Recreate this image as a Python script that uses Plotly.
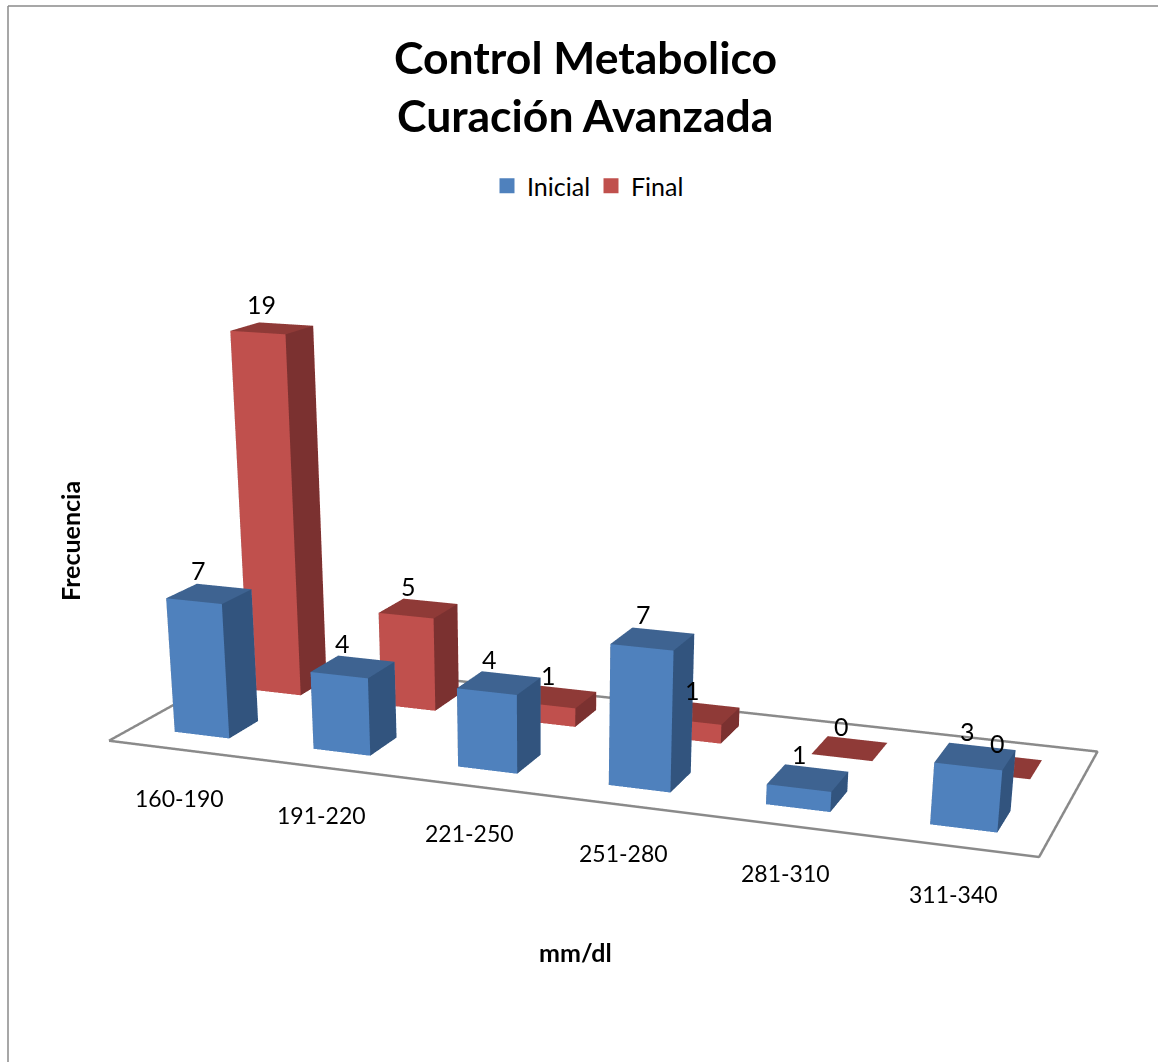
import plotly.graph_objects as go

categories = ["160-190", "191-220", "221-250", "251-280", "281-310", "311-340"]
inicial = [7, 4, 4, 7, 1, 3]
final = [19, 5, 1, 1, 0, 0]

# view set-up
W_, H_ = 1158, 2000
VIS_H = 1062
EYE = (0.8246, -2.3338, 0.5804)
CENTER = (0.0966, -0.3321, -0.3562)
UP = (-0.0048, -0.0033, 1.0)
AY, AZ = 0.3460, 0.4219
ZMAX, ZHI = 20.0, 24.0
GAP, Y_INI, Y_FIN, DEPTH = 0.3013, 0.1544, 0.6565, 0.1959
LDX, LDY, LDZ = 0.45, 0.08, 1.25
BLUE = ("#4F81BD", "#32547E", "#3E6391")
RED = ("#C0504D", "#7B3130", "#8F3A37")
cat_xy = [(179, 798), (321, 815), (469, 833), (623, 853), (785, 873), (953, 894)]

az2 = AZ * ZHI / ZMAX
dz_cam = -0.5 * az2 + 0.5 * AZ


def PX(x):
    return x / W_


def PY(y):
    return 1 - y / H_


def mesh(vals, y0, colors, name):
    X, Y, Z, I, J, K, F = [], [], [], [], [], [], []
    front, side, top = colors
    for i, v in enumerate(vals):
        n = len(X)
        xa, xb = i + GAP, i + 1 - GAP
        ya, yb = y0, y0 + DEPTH
        for z in (0, v):
            X += [xa, xb, xb, xa]
            Y += [ya, ya, yb, yb]
            Z += [z, z, z, z]
        faces = [((0, 1, 5), front), ((0, 5, 4), front), ((1, 2, 6), side), ((1, 6, 5), side),
                 ((4, 5, 6), top), ((4, 6, 7), top), ((0, 3, 7), side), ((0, 7, 4), side),
                 ((3, 2, 6), front), ((3, 6, 7), front)]
        for (a, b, c), col in faces:
            I.append(n + a)
            J.append(n + b)
            K.append(n + c)
            F.append(col)
    return go.Mesh3d(x=X, y=Y, z=Z, i=I, j=J, k=K, facecolor=F, flatshading=True, name=name,
                     hoverinfo="skip", showscale=False,
                     lighting=dict(ambient=1, diffuse=0, specular=0, roughness=1, fresnel=0))


fig = go.Figure()
fig.add_trace(go.Scatter3d(x=[0, 6, 6, 0, 0], y=[0, 0, 1, 1, 0], z=[0, 0, 0, 0, 0], mode="lines",
                           line=dict(color="#8A8A8A", width=5), showlegend=False, hoverinfo="skip"))
fig.add_trace(mesh(inicial, Y_INI, BLUE, "Inicial"))
fig.add_trace(mesh(final, Y_FIN, RED, "Final"))
for nm, col in [("Inicial", BLUE[0]), ("Final", RED[0])]:
    fig.add_trace(go.Scatter(x=[None], y=[None], mode="markers", name=nm,
                             marker=dict(symbol="square", size=15, color=col)))

F_LAB = dict(family="Lato", size=25, color="#000")
ann3 = []
for i, v in enumerate(inicial):
    ann3.append(dict(x=i + LDX, y=Y_INI + LDY, z=v + LDZ, text=str(v), showarrow=False, font=F_LAB))
for i, v in enumerate(final):
    ann3.append(dict(x=i + LDX, y=Y_FIN + LDY, z=v + LDZ, text=str(v), showarrow=False, font=F_LAB))

anns = [dict(xref="paper", yref="paper", x=PX(x), y=PY(y), xanchor="center", yanchor="middle", text=c,
             showarrow=False, font=dict(family="Lato", size=23, color="#000"))
        for c, (x, y) in zip(categories, cat_xy)]
anns += [
    dict(xref="paper", yref="paper", x=PX(585), y=PY(57), xanchor="center", yanchor="middle",
         text="<b>Control Metabolico</b>", showarrow=False, font=dict(family="Lato", size=44.5, color="#000")),
    dict(xref="paper", yref="paper", x=PX(585), y=PY(115), xanchor="center", yanchor="middle",
         text="<b>Curación Avanzada</b>", showarrow=False, font=dict(family="Lato", size=44.5, color="#000")),
    dict(xref="paper", yref="paper", x=PX(70), y=PY(541), xanchor="center", yanchor="middle",
         text="<b>Frecuencia</b>", textangle=-90, showarrow=False, font=dict(family="Lato", size=25, color="#000")),
    dict(xref="paper", yref="paper", x=PX(575), y=PY(952), xanchor="center", yanchor="middle",
         text="<b>mm/dl</b>", showarrow=False, font=dict(family="Lato", size=25, color="#000")),
]

fig.update_layout(
    width=W_, height=H_, margin=dict(l=0, r=0, t=0, b=0), paper_bgcolor="white", plot_bgcolor="white",
    xaxis=dict(visible=False, domain=[0, .01]), yaxis=dict(visible=False, domain=[0, .01]),
    scene=dict(
        domain=dict(x=[0, 1], y=[0, 1]), aspectmode="manual", dragmode="orbit",
        aspectratio=dict(x=1, y=AY, z=az2),
        xaxis=dict(visible=False, range=[0, 6]), yaxis=dict(visible=False, range=[0, 1]),
        zaxis=dict(visible=False, range=[0, ZHI]),
        camera=dict(eye=dict(x=EYE[0], y=EYE[1], z=EYE[2] + dz_cam),
                    center=dict(x=CENTER[0], y=CENTER[1], z=CENTER[2] + dz_cam),
                    up=dict(x=UP[0], y=UP[1], z=UP[2]), projection=dict(type="perspective")),
        annotations=ann3),
    legend=dict(orientation="h", x=PX(487), y=PY(163), xanchor="left", yanchor="top",
                font=dict(family="Lato", size=25, color="#000"), entrywidth=59, entrywidthmode="pixels",
                itemwidth=30, traceorder="normal"),
    showlegend=True,
    shapes=[dict(type="line", xref="paper", yref="paper", x0=PX(8), x1=PX(8), y0=PY(VIS_H), y1=PY(6),
                 line=dict(color="#8A8A8A", width=1.5)),
            dict(type="line", xref="paper", yref="paper", x0=PX(8), x1=1, y0=PY(6), y1=PY(6),
                 line=dict(color="#8A8A8A", width=1.5))],
    annotations=anns)
fig.write_html("out.html", config=dict(displayModeBar=False),
               post_script="document.body.style.margin='0';document.body.style.overflow='hidden';"
                           "document.documentElement.style.overflow='hidden';"
                           "document.body.style.height='1062px';document.documentElement.style.height='1062px';")
